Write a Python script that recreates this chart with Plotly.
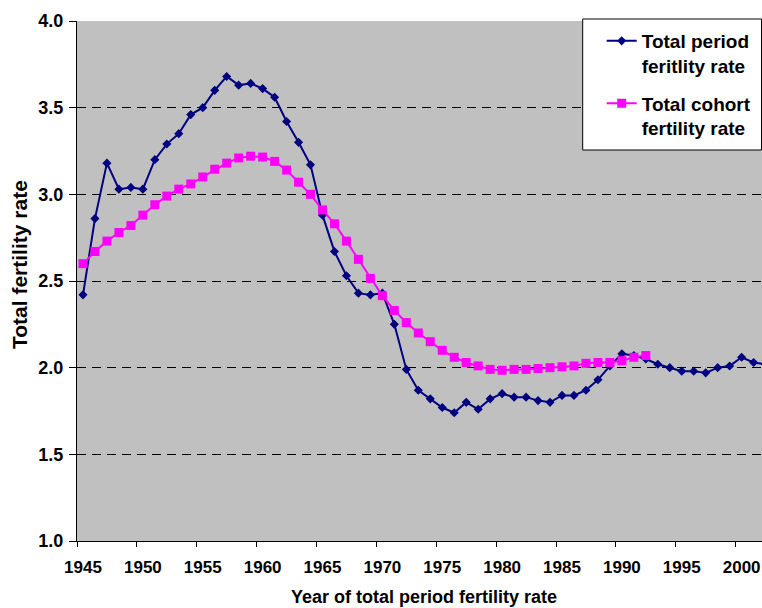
import plotly.graph_objects as go

# ---- data ----
period_years = list(range(1945, 2003))
period_tfr = [2.42, 2.86, 3.18, 3.03, 3.04, 3.03, 3.20, 3.29, 3.35, 3.46,
              3.50, 3.60, 3.68, 3.63, 3.64, 3.61, 3.56, 3.42, 3.30, 3.17,
              2.88, 2.67, 2.53, 2.43, 2.42, 2.43, 2.25, 1.99, 1.87, 1.82,
              1.77, 1.74, 1.80, 1.76, 1.82, 1.85, 1.83, 1.83, 1.81, 1.80,
              1.84, 1.84, 1.87, 1.93, 2.01, 2.08, 2.07, 2.05, 2.02, 2.00,
              1.98, 1.98, 1.97, 2.00, 2.01, 2.06, 2.03, 2.02]
cohort_years = list(range(1945, 1993))
cohort_tfr = [2.60, 2.67, 2.73, 2.78, 2.82, 2.88, 2.94, 2.99, 3.03, 3.06,
              3.10, 3.145, 3.18, 3.21, 3.22, 3.215, 3.19, 3.14, 3.07, 3.00,
              2.91, 2.83, 2.73, 2.625, 2.515, 2.415, 2.33, 2.26, 2.20, 2.15,
              2.10, 2.06, 2.03, 2.01, 1.99, 1.985, 1.99, 1.99, 1.995, 2.00,
              2.005, 2.01, 2.025, 2.03, 2.03, 2.04, 2.06, 2.07]
tick_labels = [str(y) for y in range(1945, 2001, 5)]
tick_positions = [y - 0.5 for y in range(1945, 2001, 5)]
y_ticks = [1.0, 1.5, 2.0, 2.5, 3.0, 3.5, 4.0]

series_names = ["Total period<br>feritlity rate", "Total cohort<br>fertility rate"]

W, H = 762, 608
L, R, T, B = 77, 0, 21, 67
pw, ph = W - L - R, H - T - B


def px_x(x):
    return (x - L) / pw


def px_y(y):
    return (H - B - y) / ph


FONT = "Liberation Sans, Arial, sans-serif"

fig = go.Figure()
fig.add_trace(go.Scatter(
    x=period_years, y=period_tfr, mode="lines+markers", name=series_names[0],
    line=dict(color="#000080", width=2),
    marker=dict(symbol="diamond", size=7, color="#000080"),
    legendgroup="a",
))
fig.add_trace(go.Scatter(
    x=cohort_years, y=cohort_tfr, mode="lines+markers", name=series_names[1],
    line=dict(color="#FF00FF", width=2),
    marker=dict(symbol="square", size=9, color="#FF00FF"),
    legendgroup="b",
))

fig.update_layout(
    width=W, height=H,
    margin=dict(l=L, r=R, t=T, b=B, pad=0),
    paper_bgcolor="white", plot_bgcolor="#C0C0C0",
    font=dict(family=FONT, color="black", weight="bold"),
    showlegend=True,
    legend=dict(
        x=px_x(601.7), y=px_y(22), xanchor="left", yanchor="top",
        bgcolor="rgba(0,0,0,0)", borderwidth=0,
        font=dict(family=FONT, size=19, color="black", weight="bold"),
        valign="top", tracegroupgap=10,
    ),
    xaxis=dict(
        range=[1944.5, 2001.7], tickmode="array",
        tickvals=tick_positions, ticktext=tick_labels,
        ticklabelshift=6, ticklabelstandoff=6,
        ticks="outside", ticklen=5, tickcolor="black", tickwidth=1,
        showline=True, linecolor="black", linewidth=1,
        showgrid=False, zeroline=False,
        tickfont=dict(family=FONT, size=17, color="black", weight="bold"),
    ),
    yaxis=dict(
        range=[1, 4], tickmode="array", tickvals=y_ticks,
        tickformat=".1f", ticklabelstandoff=2,
        ticks="outside", ticklen=7, tickcolor="black", tickwidth=1,
        showline=True, linecolor="black", linewidth=1,
        showgrid=True, gridcolor="black", gridwidth=1, griddash="9px,6px",
        zeroline=False,
        tickfont=dict(family=FONT, size=18, color="black", weight="bold"),
    ),
    shapes=[
        dict(type="rect", xref="paper", yref="paper",
             x0=px_x(582.7), x1=px_x(761.5), y0=px_y(150), y1=px_y(19),
             fillcolor="white", line=dict(color="black", width=1), layer="above"),
    ],
    annotations=[
        dict(text="Year of total period fertility rate", xref="paper", yref="paper",
             x=px_x(423.7), y=px_y(597), xanchor="center", yanchor="middle",
             showarrow=False, font=dict(family=FONT, size=18, color="black", weight="bold")),
        dict(text="Total fertility rate", xref="paper", yref="paper",
             x=px_x(19), y=px_y(265), xanchor="center", yanchor="middle",
             textangle=-90, showarrow=False,
             font=dict(family=FONT, size=21, color="black", weight="bold")),
    ],
)

fig.write_html(
    "out.html",
    config={"displayModeBar": False},
    post_script="document.body.style.margin='0px';document.body.style.overflow='hidden';",
)
